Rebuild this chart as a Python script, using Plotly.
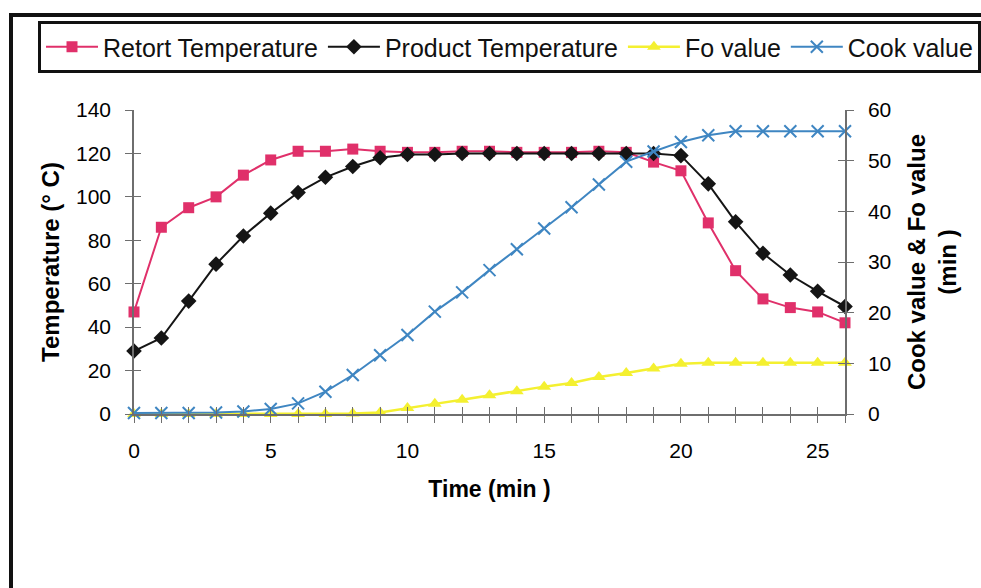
import plotly.graph_objects as go

time_min = [0, 1, 2, 3, 4, 5, 6, 7, 8, 9, 10, 11, 12, 13, 14, 15, 16, 17, 18, 19, 20, 21, 22, 23, 24, 25, 26]
retort_temp = [47, 86, 95, 100, 110, 117, 121, 121, 122, 121, 120.5, 120.5, 121, 121, 120.5, 120.5, 120.5, 121, 120.5, 116, 112, 88, 66, 53, 49, 47, 42]
product_temp = [29, 35, 52, 69, 82, 92.5, 102, 109, 114, 118, 119.5, 119.5, 120, 120, 120, 120, 120, 120, 120, 120, 119, 106, 88.5, 74, 64, 56.5, 49.5]
fo_value = [0, 0, 0, 0, 0, 0, 0, 0, 0.1, 0.3, 1.2, 2.0, 2.8, 3.7, 4.5, 5.4, 6.1, 7.3, 8.1, 9.0, 9.9, 10.1, 10.1, 10.1, 10.1, 10.1, 10.1]
cook_value = [0.2, 0.2, 0.2, 0.3, 0.5, 1.0, 2.1, 4.4, 7.7, 11.6, 15.6, 20.2, 24.0, 28.4, 32.5, 36.6, 40.8, 45.3, 49.8, 51.8, 53.7, 55.0, 55.8, 55.8, 55.8, 55.8, 55.8]

PINK = "#E0306A"
BLACK = "#151515"
YELLOW = "#F4F030"
BLUE = "#3F86C2"
AXIS = "#6E6E6E"
FONT = "Liberation Sans, Arial, sans-serif"

fig = go.Figure()
fig.add_trace(go.Scatter(x=time_min, y=retort_temp, name="Retort Temperature", mode="lines+markers",
                         line=dict(color=PINK, width=2), marker=dict(symbol="square", size=11, color=PINK),
                         cliponaxis=False))
fig.add_trace(go.Scatter(x=time_min, y=product_temp, name="Product Temperature", mode="lines+markers",
                         line=dict(color=BLACK, width=2), marker=dict(symbol="diamond", size=12, color=BLACK),
                         cliponaxis=False))
fig.add_trace(go.Scatter(x=time_min, y=fo_value, name="Fo value", mode="lines+markers", yaxis="y2",
                         line=dict(color=YELLOW, width=2.5), marker=dict(symbol="triangle-up", size=12, color=YELLOW),
                         cliponaxis=False))
fig.add_trace(go.Scatter(x=time_min, y=cook_value, name="Cook value", mode="lines+markers", yaxis="y2",
                         line=dict(color=BLUE, width=2),
                         marker=dict(symbol="x-thin", size=12, color=BLUE, line=dict(color=BLUE, width=2)),
                         cliponaxis=False))
# empty helper traces so the inward tick axes (for crossing ticks) get drawn
fig.add_trace(go.Scatter(x=[], y=[], xaxis="x2", yaxis="y3", showlegend=False, hoverinfo="skip"))
fig.add_trace(go.Scatter(x=[], y=[], xaxis="x2", yaxis="y4", showlegend=False, hoverinfo="skip"))

W, H = 981, 588
L, R, T, B = 134, 845, 110, 414
XDOM = [L / W, R / W]
YDOM = [1 - B / H, 1 - T / H]


def px(xp):
    return xp / W


def py(yp):
    return 1 - yp / H


tickfont = dict(family=FONT, size=21, color="#000")
titlefont = dict(family=FONT, size=23, color="#000", weight="bold")
ytitlefont = dict(family=FONT, size=24, color="#000", weight="bold")

fig.update_layout(
    width=W, height=H,
    margin=dict(l=0, r=0, t=0, b=0, pad=0, autoexpand=False),
    paper_bgcolor="white", plot_bgcolor="rgba(0,0,0,0)",
    font=dict(family=FONT, color="#111"),
    showlegend=True,
    legend=dict(orientation="h", x=px(38), xanchor="left", y=py(21), yanchor="top",
                bgcolor="white", bordercolor="#111", borderwidth=3,
                font=dict(family=FONT, size=25, color="#111"),
                itemwidth=52, tracegroupgap=0),
    xaxis=dict(domain=XDOM, range=[0, 26], showgrid=False, zeroline=False, showline=True, linecolor=AXIS,
               linewidth=1.5, tickmode="linear", tick0=0, dtick=5, ticks="outside", ticklen=7, tickcolor=AXIS,
               tickwidth=1,
               minor=dict(dtick=1, ticks="outside", ticklen=7, tickcolor=AXIS, tickwidth=1, showgrid=False),
               tickfont=tickfont, ticklabelstandoff=10,
               title=dict(text="Time (min )", font=titlefont, standoff=20)),
    xaxis2=dict(domain=XDOM, range=[0, 26], overlaying="x", anchor="y", showgrid=False, zeroline=False,
                showline=False, tickmode="linear", tick0=0, dtick=1, ticks="inside", ticklen=7, tickcolor=AXIS,
                tickwidth=1, showticklabels=False),
    yaxis=dict(domain=YDOM, range=[0, 140], showgrid=False, zeroline=False, showline=True, linecolor=AXIS,
               linewidth=1.5, tickmode="linear", tick0=0, dtick=20, ticks="outside", ticklen=7, tickcolor=AXIS,
               tickwidth=1, tickfont=tickfont, ticklabelstandoff=10,
               title=dict(text="Temperature (° C)", font=ytitlefont, standoff=10)),
    yaxis2=dict(domain=YDOM, range=[0, 60], overlaying="y", side="right", anchor="x", showgrid=False,
                zeroline=False, showline=True, linecolor=AXIS, linewidth=1.5,
                tickmode="linear", tick0=0, dtick=10, ticks="outside", ticklen=7, tickcolor=AXIS, tickwidth=1,
                tickfont=tickfont, ticklabelstandoff=10,
                title=dict(text="Cook value & Fo value<br>(min )", font=ytitlefont, standoff=18)),
    yaxis3=dict(domain=YDOM, range=[0, 140], overlaying="y", anchor="x", side="left", showgrid=False,
                zeroline=False, showline=False, tickmode="linear", tick0=0, dtick=20, ticks="inside", ticklen=7,
                tickcolor=AXIS, tickwidth=1, showticklabels=False),
    yaxis4=dict(domain=YDOM, range=[0, 60], overlaying="y", anchor="x2", side="right", showgrid=False,
                zeroline=False, showline=False, tickmode="linear", tick0=0, dtick=10, ticks="inside", ticklen=7,
                tickcolor=AXIS, tickwidth=1, showticklabels=False),
    shapes=[
        dict(type="line", xref="paper", yref="paper", x0=px(9), x1=px(990), y0=py(15), y1=py(15),
             line=dict(color="#111", width=4)),
        dict(type="line", xref="paper", yref="paper", x0=px(11), x1=px(11), y0=py(13), y1=py(600),
             line=dict(color="#111", width=4)),
    ],
)

fig.write_html("out.html")
